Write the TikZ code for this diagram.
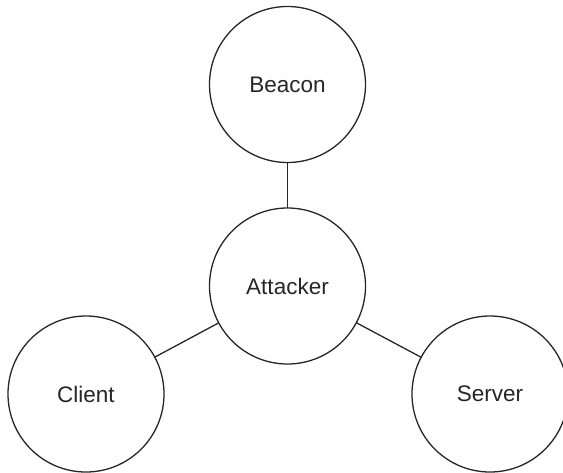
\documentclass[tikz,border=0pt]{standalone}
\usepackage{fontspec}
\setmainfont{Liberation Sans}
\begin{document}
\begin{tikzpicture}[x=1pt,y=-1pt,
  entity/.style={circle,draw=black!85,line width=1.3pt,minimum size=156pt,inner sep=0pt,outer sep=0pt,
    font=\fontsize{22.5}{26}\selectfont,text=black!85},
  link/.style={draw=black!85,line width=1.3pt}]
\useasboundingbox (0,0) rectangle (563,472);
\node[entity] (beacon) at (287.5,84.5) {Beacon};
\node[entity] (attacker) at (287.5,286) {Attacker};
\node[entity] (client) at (86,394) {Client};
\node[entity] (server) at (490,394) {Server};
\draw[link] (beacon) -- (attacker);
\draw[link] (attacker) -- (client);
\draw[link] (attacker) -- (server);
\end{tikzpicture}
\end{document}
